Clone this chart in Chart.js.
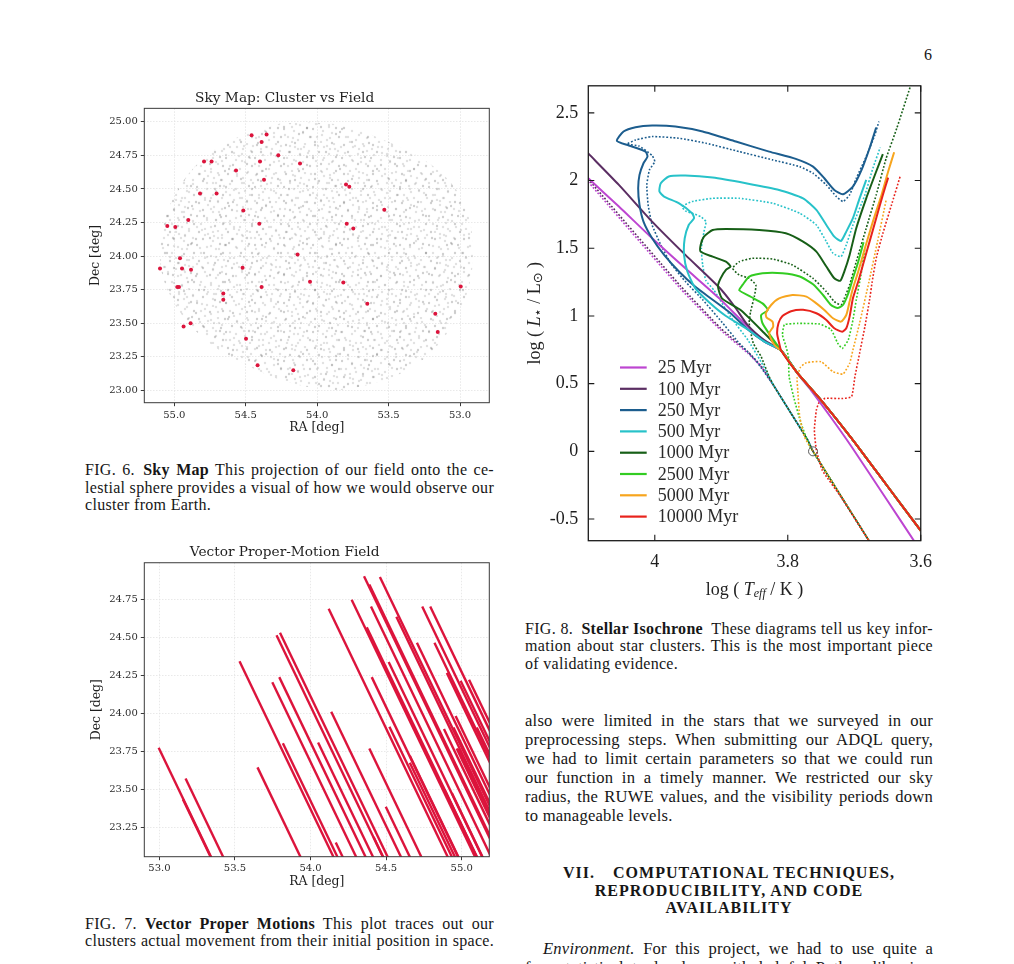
<!DOCTYPE html>
<html>
<head>
<meta charset="utf-8">
<script src="https://cdn.jsdelivr.net/npm/chart.js@4.4.0/dist/chart.umd.min.js"></script>
<style>
  html, body { margin: 0; padding: 0; background: #fff; }
  body { width: 1014px; height: 964px; overflow: hidden; position: relative; font-family: "Liberation Serif", serif; color: #161616; }
  canvas { position: absolute; }
  .blk { position: absolute; letter-spacing: 0.3px; }
  .cap { font-size: 16px; line-height: 17.6px; width: 409px; }
  .body { font-size: 16.6px; line-height: 18.9px; width: 408px; letter-spacing: 0.2px; }
  .j { text-align: justify; text-align-last: justify; }
  .head { font-size: 16px; line-height: 17.5px; width: 408px; font-weight: bold; text-align: center; letter-spacing: 1px; }
</style>
</head>
<body>
<div class="blk" style="left:924px;top:46px;font-size:16px;line-height:18px;">6</div>

<canvas id="skyMap" width="420" height="350" style="left:80px;top:85px;"></canvas>
<canvas id="pmField" width="420" height="360" style="left:80px;top:540px;"></canvas>
<canvas id="isochrone" width="423" height="545" style="left:520px;top:65px;"></canvas>

<div class="blk cap" style="left:85px;top:461px;">
  <div class="j">FIG. 6.&ensp;<b>Sky Map</b> This projection of our field onto the ce-</div>
  <div class="j">lestial sphere provides a visual of how we would observe our</div>
  <div>cluster from Earth.</div>
</div>

<div class="blk cap" style="left:85px;top:914.5px;">
  <div class="j">FIG. 7.&ensp;<b>Vector Proper Motions</b> This plot traces out our</div>
  <div class="j">clusters actual movement from their initial position in space.</div>
</div>

<div class="blk cap" style="left:525px;top:619.5px;width:408px;">
  <div class="j">FIG. 8.&ensp;<b>Stellar Isochrone</b>&ensp;These diagrams tell us key infor-</div>
  <div class="j">mation about star clusters. This is the most important piece</div>
  <div>of validating evidence.</div>
</div>

<div class="blk body" style="left:525px;top:712px;">
  <div class="j">also were limited in the stars that we surveyed in our</div>
  <div class="j">preprocessing steps. When submitting our ADQL query,</div>
  <div class="j">we had to limit certain parameters so that we could run</div>
  <div class="j">our function in a timely manner. We restricted our sky</div>
  <div class="j">radius, the RUWE values, and the visibility periods down</div>
  <div>to manageable levels.</div>
</div>

<div class="blk head" style="left:525px;top:864px;">
  <div>VII.&ensp;&ensp;COMPUTATIONAL TECHNIQUES,</div>
  <div>REPRODUCIBILITY, AND CODE</div>
  <div>AVAILABILITY</div>
</div>

<div class="blk body" style="left:525px;top:940px;">
  <div class="j" style="padding-left:18px;"><i>Environment.</i>&ensp;For this project, we had to use quite a</div>
  <div class="j">few statistical tools along with helpful Python libraries.</div>
</div>

<script>
// cluster members (sky positions)
const clusterRA = [54.459, 54.354, 54.389, 54.272, 54.792, 54.739, 54.400, 54.120, 54.568, 54.372, 53.798,
  53.775, 54.820, 54.704, 54.517, 53.530, 54.902, 55.049, 54.993, 54.405, 53.793, 53.747, 54.137, 54.960,
  55.100, 54.946, 54.883, 54.522, 54.979, 54.967, 54.389, 54.050, 53.817, 54.657, 54.657, 53.649, 52.995,
  53.173, 53.156, 54.886, 54.935, 54.498, 54.417, 54.167];
const clusterDec = [24.900, 24.905, 24.850, 24.750, 24.705, 24.705, 24.705, 24.690, 24.638, 24.568, 24.533,
  24.516, 24.466, 24.466, 24.340, 24.345, 24.268, 24.223, 24.216, 24.240, 24.240, 24.206, 24.012, 23.983,
  23.908, 23.908, 23.898, 23.913, 23.769, 23.769, 23.769, 23.809, 23.804, 23.722, 23.675, 23.645, 23.774,
  23.571, 23.434, 23.499, 23.476, 23.385, 23.186, 23.149];

// outline of the field-star cone
const fieldEdgeRA = [54.027, 53.793, 53.56, 53.327, 53.14, 53.0, 52.93, 52.907, 52.93, 53.0, 53.117, 53.28,
  53.49, 53.70, 53.887, 54.074, 54.284, 54.494, 54.704, 54.89, 55.019, 55.089, 55.10, 55.065, 54.984,
  54.867, 54.704, 54.494, 54.26];
const fieldEdgeDec = [24.995, 24.97, 24.876, 24.764, 24.628, 24.454, 24.256, 24.032, 23.809, 23.586, 23.387,
  23.213, 23.09, 23.027, 23.002, 23.027, 23.089, 23.189, 23.313, 23.486, 23.685, 23.883, 24.082, 24.28,
  24.479, 24.653, 24.801, 24.913, 24.988];

// proper-motion track, same for every member
const trackRA = 1.06;
const trackDec = -2.2;

const skyTicksDec = [23.0, 23.25, 23.5, 23.75, 24.0, 24.25, 24.5, 24.75, 25.0];
const skyTicksRA = [55.0, 54.5, 54.0, 53.5, 53.0];
const pmTicksRA = [53.0, 53.5, 54.0, 54.5, 55.0];
const pmTicksDec = [23.25, 23.5, 23.75, 24.0, 24.25, 24.5, 24.75];

// isochrones: [log Teff, log L]
const ageLabels = ['25 Myr', '100 Myr', '250 Myr', '500 Myr', '1000 Myr', '2500 Myr', '5000 Myr', '10000 Myr'];
const ageColors = ['#bd45d1', '#5b2e63', '#1c5d8e', '#27c2c9', '#175f17', '#33cc22', '#f7a51e', '#e8231c'];

const lowerMS = [[3.785, 0.576], [3.750, 0.379], [3.704, 0.096], [3.652, -0.245], [3.600, -0.585]];
const tail25 = [[3.785, 0.572], [3.765, 0.45], [3.735, 0.25], [3.704, 0.034], [3.652, -0.35], [3.606, -0.692]];

const iso25 = [[4.10, 2.017], [4.054, 1.808], [4.004, 1.574], [3.954, 1.352], [3.903, 1.13], [3.86, 0.92],
  [3.835, 0.81], [3.810, 0.745], ...tail25];
const iso100 = [[4.10, 2.20], [4.054, 1.968], [4.004, 1.697], [3.954, 1.451], [3.903, 1.21], [3.88, 1.07],
  [3.86, 0.93], [3.835, 0.82], [3.810, 0.745], ...lowerMS];
const iso250 = [[3.667, 2.392], [3.677, 2.239], [3.689, 2.079], [3.702, 1.956], [3.717, 1.899], [3.730, 1.931],
  [3.745, 2.017], [3.762, 2.103], [3.788, 2.160], [3.828, 2.214], [3.878, 2.288], [3.928, 2.362], [3.969, 2.399],
  [4.004, 2.406], [4.029, 2.394], [4.047, 2.362], [4.057, 2.293], [4.039, 2.259], [4.014, 2.214], [4.011, 2.177],
  [4.017, 2.128], [4.023, 2.042], [4.025, 1.943], [4.023, 1.820], [4.017, 1.697], [4.004, 1.574], [3.986, 1.451],
  [3.964, 1.33], [3.939, 1.215], [3.913, 1.12], [3.886, 1.02], [3.860, 0.90], [3.835, 0.81], [3.810, 0.745],
  ...lowerMS];
const iso500 = [[3.682, 2.005], [3.692, 1.869], [3.702, 1.722], [3.712, 1.623], [3.720, 1.554], [3.730, 1.586],
  [3.742, 1.672], [3.757, 1.783], [3.777, 1.869], [3.813, 1.931], [3.863, 1.98], [3.913, 2.022], [3.954, 2.037],
  [3.979, 2.030], [3.991, 1.980], [3.993, 1.919], [3.986, 1.882], [3.964, 1.833], [3.944, 1.759], [3.941, 1.722],
  [3.949, 1.672], [3.955, 1.574], [3.956, 1.451], [3.951, 1.328], [3.939, 1.204], [3.918, 1.10], [3.893, 1.0],
  [3.860, 0.90], [3.835, 0.81], [3.810, 0.745], ...lowerMS];
const iso1000 = [[3.657, 2.195], [3.667, 2.067], [3.682, 1.869], [3.697, 1.648], [3.707, 1.451], [3.715, 1.328],
  [3.721, 1.260], [3.730, 1.278], [3.742, 1.365], [3.757, 1.475], [3.777, 1.549], [3.803, 1.611], [3.843, 1.635],
  [3.893, 1.643], [3.913, 1.635], [3.926, 1.586], [3.931, 1.525], [3.931, 1.475], [3.913, 1.438], [3.893, 1.401],
  [3.886, 1.365], [3.893, 1.340], [3.901, 1.278], [3.905, 1.22], [3.899, 1.13], [3.871, 1.044], [3.835, 0.872],
  [3.810, 0.745], ...lowerMS];
const iso2500 = [[3.686, 1.544], [3.694, 1.401], [3.702, 1.278], [3.709, 1.167], [3.717, 1.081], [3.725, 1.058],
  [3.735, 1.081], [3.747, 1.155], [3.762, 1.234], [3.782, 1.291], [3.808, 1.315], [3.838, 1.315], [3.858, 1.291],
  [3.868, 1.229], [3.873, 1.19], [3.855, 1.14], [3.838, 1.093], [3.830, 1.044], [3.840, 1.007], [3.838, 0.946],
  [3.825, 0.847], [3.810, 0.745], ...lowerMS];
const iso5000 = [[3.640, 2.209], [3.649, 2.067], [3.659, 1.894], [3.672, 1.697], [3.684, 1.5], [3.694, 1.328],
  [3.702, 1.204], [3.707, 1.106], [3.712, 1.007], [3.720, 0.958], [3.732, 0.983], [3.745, 1.044], [3.757, 1.093],
  [3.772, 1.143], [3.793, 1.155], [3.813, 1.13], [3.825, 1.081], [3.833, 1.02], [3.832, 0.990], [3.823, 0.958],
  [3.822, 0.921], [3.828, 0.872], [3.822, 0.80], [3.815, 0.761], [3.810, 0.745], ...lowerMS];
const iso10000 = [[3.649, 2.022], [3.657, 1.894], [3.667, 1.722], [3.677, 1.549], [3.687, 1.377], [3.694, 1.254],
  [3.702, 1.130], [3.707, 0.995], [3.712, 0.909], [3.718, 0.884], [3.730, 0.909], [3.742, 0.970], [3.757, 1.02],
  [3.777, 1.045], [3.795, 1.035], [3.808, 1.0], [3.814, 0.946], [3.816, 0.87], [3.813, 0.80], [3.810, 0.745],
  ...lowerMS];

// dotted companions
const dotTail = [[3.820, 0.477], [3.795, 0.280], [3.770, 0.083], [3.762, 0.0], [3.66, -0.80]];
const dot25 = [[4.10, 1.99], [3.961, 1.20], [3.901, 0.896], [3.860, 0.724], [3.840, 0.625], ...dotTail];
const dot100 = [[4.10, 2.01], [3.961, 1.22], [3.901, 0.91], [3.860, 0.735], [3.840, 0.63], ...dotTail];
const dot250 = [[3.663, 2.436], [3.669, 2.337], [3.682, 2.177], [3.697, 2.017], [3.707, 1.894], [3.717, 1.845],
  [3.727, 1.882], [3.742, 1.968], [3.762, 2.054], [3.782, 2.103], [3.823, 2.153], [3.873, 2.214], [3.923, 2.276],
  [3.964, 2.313], [4.004, 2.325], [4.029, 2.30], [4.042, 2.268], [4.024, 2.256], [4.004, 2.185], [4.0, 2.14],
  [4.008, 2.079], [4.012, 1.968], [4.01, 1.82], [4.004, 1.672], [3.991, 1.525], [3.976, 1.389], [3.954, 1.254],
  [3.928, 1.12], [3.900, 0.96], [3.875, 0.81], [3.848, 0.67], ...dotTail];
const dot500 = [[3.661, 2.244], [3.672, 2.091], [3.684, 1.894], [3.702, 1.672], [3.712, 1.525], [3.720, 1.438],
  [3.732, 1.463], [3.742, 1.549], [3.757, 1.672], [3.782, 1.759], [3.823, 1.833], [3.873, 1.869], [3.913, 1.869],
  [3.944, 1.845], [3.959, 1.808], [3.954, 1.776], [3.944, 1.759], [3.931, 1.734], [3.923, 1.697], [3.926, 1.623],
  [3.930, 1.5], [3.928, 1.377], [3.923, 1.26], [3.911, 1.19], [3.886, 0.994], [3.860, 0.822], [3.840, 0.66],
  ...dotTail];
const dot1000 = [[3.612, 2.75], [3.636, 2.387], [3.652, 2.165], [3.667, 1.894], [3.682, 1.648], [3.697, 1.401],
  [3.707, 1.229], [3.715, 1.130], [3.720, 1.081], [3.730, 1.106], [3.742, 1.180], [3.762, 1.278], [3.793, 1.377],
  [3.823, 1.421], [3.853, 1.426], [3.873, 1.401], [3.883, 1.352], [3.873, 1.303], [3.858, 1.278], [3.848, 1.229],
  [3.850, 1.15], [3.856, 1.03], [3.858, 0.946], [3.852, 0.80], [3.840, 0.699], [3.828, 0.551], ...dotTail];
const dot2500 = [[3.684, 1.50], [3.690, 1.30], [3.697, 1.118], [3.702, 0.970], [3.709, 0.823], [3.718, 0.76],
  [3.725, 0.80], [3.735, 0.90], [3.752, 0.94], [3.785, 0.945], [3.805, 0.935], [3.808, 0.86], [3.803, 0.78],
  [3.799, 0.699], [3.798, 0.551], [3.790, 0.379], [3.780, 0.207], [3.767, 0.034], [3.762, 0.0], [3.66, -0.80]];
const dot5000 = [[3.652, 1.857], [3.665, 1.55], [3.678, 1.25], [3.692, 0.946], [3.702, 0.749], [3.707, 0.65],
  [3.717, 0.571], [3.732, 0.588], [3.750, 0.662], [3.772, 0.655], [3.781, 0.62], [3.786, 0.54], [3.785, 0.453],
  [3.782, 0.255], [3.775, 0.108], [3.765, 0.02], [3.762, 0.0], [3.66, -0.80]];
const dot10000 = [[3.631, 2.03], [3.644, 1.82], [3.657, 1.61], [3.667, 1.426], [3.673, 1.254], [3.677, 1.118],
  [3.684, 0.921], [3.692, 0.724], [3.699, 0.552], [3.704, 0.404], [3.717, 0.39], [3.744, 0.391], [3.753, 0.36],
  [3.757, 0.305], [3.760, 0.157], [3.757, 0.01], [3.748, -0.14], [3.721, -0.33], [3.66, -0.80]];

const sunTeff = 3.762;
const sunLum = 0.0;
const isoTicksTeff = [4.0, 3.8, 3.6];
const isoTicksLum = [2.5, 2.0, 1.5, 1.0, 0.5, 0.0, -0.5];

const solidTracks = [iso25, iso100, iso250, iso500, iso1000, iso2500, iso5000, iso10000];
const dottedTracks = [dot25, dot100, dot250, dot500, dot1000, dot2500, dot5000, dot10000];

// ---------- styling helpers ----------
const crimson = '#dc143c';
const mplFont = '"DejaVu Serif", serif';
const texFont = '"Liberation Serif", serif';

// two speckle tiles of different sizes, overlaid so the shading does not look gridded
const speckleA = [[3, 2], [12, 4], [22, 1], [7, 9], [17, 11], [26, 8], [1, 15], [11, 17], [20, 19], [27, 23],
  [5, 23], [15, 26], [24, 14], [9, 28], [18, 6]];
const speckleB = [[5, 6], [14, 2], [27, 5], [34, 12], [9, 15], [20, 13], [30, 21], [2, 25], [16, 24], [24, 30],
  [35, 33], [11, 34], [19, 5], [6, 31], [28, 16], [13, 20], [33, 27], [22, 36], [1, 10], [25, 24], [31, 2]];

function speckle(dots, size) {
  const tile = document.createElement('canvas');
  tile.width = size;
  tile.height = size;
  const g = tile.getContext('2d');
  dots.forEach(([x, y], i) => {
    g.fillStyle = i % 3 === 0 ? 'rgba(110,110,110,0.32)' : 'rgba(145,145,145,0.27)';
    g.beginPath();
    g.arc(x, y, 1.2, 0, Math.PI * 2);
    g.fill();
  });
  return g.createPattern(tile, 'repeat');
}

const boxFrame = {
  id: 'boxFrame',
  afterDraw(chart) {
    const { ctx, chartArea: a } = chart;
    ctx.save();
    ctx.strokeStyle = '#3a3a3a';
    ctx.lineWidth = 1;
    ctx.strokeRect(a.left, a.top, a.right - a.left, a.bottom - a.top);
    ctx.restore();
  }
};

function mplAxis(ticksList, fmt, extra) {
  return Object.assign({
    type: 'linear',
    afterBuildTicks: (scale) => { scale.ticks = ticksList.map(v => ({ value: v })); },
    ticks: { autoSkip: false, maxRotation: 0, color: '#2b2b2b', font: { family: mplFont, size: 10 }, callback: fmt },
    grid: { color: '#e3e3e3', lineWidth: 0.8, tickColor: '#3a3a3a', tickLength: 3.5, tickWidth: 1 },
    border: { display: false, dash: [1.5, 1.5] }
  }, extra);
}

const fieldShape = fieldEdgeRA.map((ra, i) => ({ x: ra, y: fieldEdgeDec[i] }));

// ---------- Sky map ----------
new Chart(document.getElementById('skyMap'), {
  type: 'scatter',
  data: {
    datasets: [
      {
        data: clusterRA.map((ra, i) => ({ x: ra, y: clusterDec[i] })),
        backgroundColor: crimson,
        borderWidth: 0,
        pointRadius: 2
      },
      {
        type: 'line',
        data: fieldShape,
        backgroundColor: speckle(speckleA, 29),
        borderWidth: 0,
        pointRadius: 0,
        fill: 'shape',
        tension: 0.35
      },
      {
        type: 'line',
        data: fieldShape,
        backgroundColor: speckle(speckleB, 37),
        borderWidth: 0,
        pointRadius: 0,
        fill: 'shape',
        tension: 0.35
      }
    ]
  },
  options: {
    responsive: false,
    animation: false,
    layout: { padding: { left: 0, right: 10.7, top: 0, bottom: 0 } },
    plugins: {
      legend: { display: false },
      tooltip: { enabled: false },
      title: {
        display: true,
        text: 'Sky Map: Cluster vs Field',
        color: '#1e1e1e',
        font: { family: mplFont, size: 13.7, weight: 'normal', lineHeight: 1.2 },
        padding: { top: 4.8, bottom: 2.1 }
      }
    },
    scales: {
      x: mplAxis(skyTicksRA, v => v.toFixed(1), {
        min: 52.795, max: 55.21, reverse: true,
        afterFit: (s) => { s.height = 32.3; },
        title: { display: true, text: 'RA [deg]', color: '#1e1e1e', font: { family: mplFont, size: 12.4 }, padding: { top: 0, bottom: 0.1 } }
      }),
      y: mplAxis(skyTicksDec, v => v.toFixed(2), {
        min: 22.908, max: 25.10,
        afterFit: (s) => { s.width = 64.3; },
        title: { display: true, text: 'Dec [deg]', color: '#1e1e1e', font: { family: mplFont, size: 12.4 }, padding: { top: 8.6, bottom: 0 } }
      })
    }
  },
  plugins: [boxFrame]
});

// ---------- Vector proper-motion field ----------
new Chart(document.getElementById('pmField'), {
  type: 'scatter',
  data: {
    datasets: clusterRA.map((ra, i) => ({
      type: 'line',
      data: [{ x: ra, y: clusterDec[i] }, { x: ra + trackRA, y: clusterDec[i] + trackDec }],
      borderColor: crimson,
      borderWidth: 2.4,
      borderCapStyle: 'butt',
      pointRadius: 0,
      fill: false,
      clip: 0
    }))
  },
  options: {
    responsive: false,
    animation: false,
    layout: { padding: { left: 0, right: 10.7, top: 0, bottom: 0 } },
    plugins: {
      legend: { display: false },
      tooltip: { enabled: false },
      title: {
        display: true,
        text: 'Vector Proper-Motion Field',
        color: '#1e1e1e',
        font: { family: mplFont, size: 13.7, weight: 'normal', lineHeight: 1.2 },
        padding: { top: 3.8, bottom: 2.5 }
      }
    },
    scales: {
      x: mplAxis(pmTicksRA, v => v.toFixed(1), {
        min: 52.90, max: 55.183,
        afterFit: (s) => { s.height = 43.3; },
        ticks: { autoSkip: false, maxRotation: 0, color: '#2b2b2b', font: { family: mplFont, size: 10 }, padding: 2, callback: v => v.toFixed(1) },
        title: { display: true, text: 'RA [deg]', color: '#1e1e1e', font: { family: mplFont, size: 12.4 }, padding: { top: 0, bottom: 11.1 } }
      }),
      y: mplAxis(pmTicksDec, v => v.toFixed(2), {
        min: 23.056, max: 24.994,
        afterFit: (s) => { s.width = 64.3; },
        title: { display: true, text: 'Dec [deg]', color: '#1e1e1e', font: { family: mplFont, size: 12.4 }, padding: { top: 9.3, bottom: 0 } }
      })
    }
  },
  plugins: [boxFrame]
});

// ---------- Isochrones ----------
const isoFrame = {
  id: 'isoFrame',
  afterDraw(chart) {
    const { ctx, chartArea: a, scales } = chart;
    ctx.save();
    ctx.strokeStyle = '#1a1a1a';
    ctx.lineWidth = 1.3;
    ctx.strokeRect(a.left, a.top, a.right - a.left, a.bottom - a.top);
    ctx.lineWidth = 1.1;
    ctx.beginPath();
    isoTicksTeff.forEach(v => {
      const px = scales.x.getPixelForValue(v);
      ctx.moveTo(px, a.bottom); ctx.lineTo(px, a.bottom - 6);
      ctx.moveTo(px, a.top); ctx.lineTo(px, a.top + 6);
    });
    isoTicksLum.forEach(v => {
      const py = scales.y.getPixelForValue(v);
      ctx.moveTo(a.left, py); ctx.lineTo(a.left + 6, py);
      ctx.moveTo(a.right, py); ctx.lineTo(a.right - 6, py);
    });
    ctx.stroke();
    ctx.restore();
  }
};

const isoLegend = {
  id: 'isoLegend',
  afterDraw(chart) {
    const { ctx, chartArea: a } = chart;
    ctx.save();
    ctx.font = '18px ' + texFont;
    ctx.textBaseline = 'middle';
    ctx.textAlign = 'left';
    ageLabels.forEach((lab, i) => {
      const y = a.top + 281.7 + i * 21.3;
      ctx.strokeStyle = ageColors[i];
      ctx.lineWidth = 2.2;
      ctx.beginPath();
      ctx.moveTo(a.left + 31.7, y);
      ctx.lineTo(a.left + 58.4, y);
      ctx.stroke();
      ctx.fillStyle = '#2a2a2a';
      ctx.fillText(lab, a.left + 69.4, y + 1);
    });
    ctx.restore();
  }
};

const isoTitles = {
  id: 'isoTitles',
  afterDraw(chart) {
    const { ctx, chartArea: a } = chart;
    const base = '18px ' + texFont;
    const ital = 'italic 18px ' + texFont;
    const sub = 'italic 12px ' + texFont;
    const sym = '13px "DejaVu Sans", sans-serif';
    function runs(parts, cx, cy) {
      let total = 0;
      parts.forEach(p => { ctx.font = p.font; p.w = ctx.measureText(p.text).width; total += p.w; });
      let x = cx - total / 2;
      parts.forEach(p => { ctx.font = p.font; ctx.fillText(p.text, x, cy + (p.dy || 0)); x += p.w; });
    }
    ctx.save();
    ctx.fillStyle = '#222';
    ctx.textBaseline = 'middle';
    ctx.textAlign = 'left';
    runs([
      { text: 'log ( ', font: base },
      { text: 'T', font: ital },
      { text: 'eff', font: sub, dy: 4 },
      { text: ' / K )', font: base }
    ], (a.left + a.right) / 2, a.bottom + 49.3);
    ctx.translate(a.left - 53.3, (a.top + a.bottom) / 2);
    ctx.rotate(-Math.PI / 2);
    runs([
      { text: 'log ( ', font: base },
      { text: 'L', font: ital },
      { text: '\u22C6', font: sym, dy: 4 },
      { text: ' / L', font: base },
      { text: '\u2299', font: sym, dy: 4 },
      { text: ' )', font: base }
    ], 0, 0);
    ctx.restore();
  }
};

const toXY = (pts) => pts.map(([x, y]) => ({ x, y }));
const isoSets = [];
isoSets.push({
  type: 'scatter',
  data: [{ x: sunTeff, y: sunLum }],
  pointRadius: 4.5,
  borderColor: '#4a4a4a',
  borderWidth: 0.9,
  backgroundColor: 'rgba(0,0,0,0)'
});
isoSets.push({
  type: 'scatter',
  data: [{ x: sunTeff, y: sunLum }],
  pointRadius: 1,
  borderWidth: 0,
  backgroundColor: '#4a4a4a'
});
for (let i = solidTracks.length - 1; i >= 0; i--) {
  isoSets.push({
    type: 'line',
    data: toXY(solidTracks[i]),
    borderColor: ageColors[i],
    borderWidth: 2,
    pointRadius: 0,
    tension: 0.2,
    fill: false
  });
}
for (let i = dottedTracks.length - 1; i >= 0; i--) {
  isoSets.push({
    type: 'line',
    data: toXY(dottedTracks[i]),
    borderColor: ageColors[i],
    borderWidth: 1.6,
    borderDash: [1.8, 1.8],
    borderDashOffset: i * 0.45,
    pointRadius: 0,
    tension: 0.15,
    fill: false
  });
}

new Chart(document.getElementById('isochrone'), {
  type: 'scatter',
  data: { datasets: isoSets },
  options: {
    responsive: false,
    animation: false,
    layout: { padding: { left: 0, right: 0, top: 0, bottom: 0 } },
    plugins: { legend: { display: false }, tooltip: { enabled: false }, title: { display: false } },
    scales: {
      x: {
        type: 'linear', min: 3.6, max: 4.1, reverse: true,
        afterBuildTicks: (scale) => { scale.ticks = isoTicksTeff.map(v => ({ value: v })); },
        afterFit: (s) => { s.height = 69.3; },
        ticks: { autoSkip: false, maxRotation: 0, padding: 11, color: '#1e1e1e', font: { family: texFont, size: 18 }, callback: v => String(v) },
        grid: { display: false, drawTicks: false },
        border: { display: false }
      },
      y: {
        type: 'linear', min: -0.66, max: 2.70,
        afterBuildTicks: (scale) => { scale.ticks = isoTicksLum.map(v => ({ value: v })); },
        afterFit: (s) => { s.width = 68.3; },
        ticks: { autoSkip: false, padding: 10, color: '#1e1e1e', font: { family: texFont, size: 18 }, callback: v => String(v) },
        grid: { display: false, drawTicks: false },
        border: { display: false }
      }
    }
  },
  plugins: [isoFrame, isoLegend, isoTitles]
});
</script>
</body>
</html>
